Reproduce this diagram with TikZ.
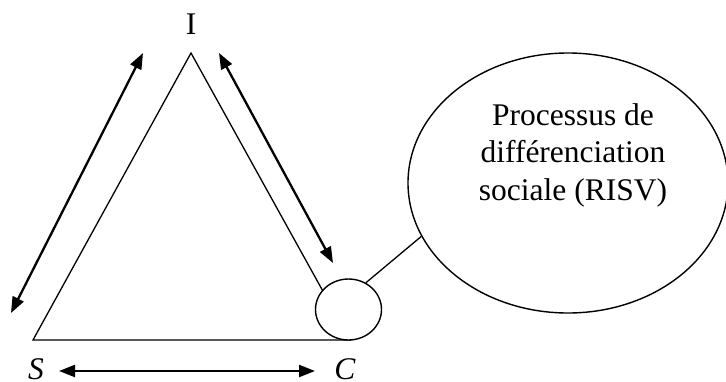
\documentclass[tikz,border=0pt]{standalone}
\usepackage{fontspec}
\setmainfont{Liberation Serif}
\usetikzlibrary{arrows.meta,shapes.geometric,positioning}
\tikzset{
  side/.style={line width=1.3pt},
  link/.style={{Triangle[length=16pt,width=12pt]}-{Triangle[length=16pt,width=12pt]},line width=2.3pt},
  vertex/.style={font=\fontsize{31.5}{37.5}\selectfont,inner sep=0pt},
  bubble/.style={ellipse,draw,line width=1.4pt,fill=white,inner sep=0pt},
  caption/.style={font=\fontsize{31.5}{37.5}\selectfont,align=center,inner sep=0pt}
}

\begin{document}
\begin{tikzpicture}[x=1pt,y=-1pt]
  \useasboundingbox (0,0) rectangle (726,381);
  % triangle S - I - C
  \coordinate (s) at (33,340);
  \coordinate (i) at (191,53);
  \coordinate (c) at (350,340);
  \draw[side] (s) -- (i) -- (c) -- cycle;
  \node[vertex] (ilabel) at (191,24) {I};
  \node[vertex] (slabel) at (36,369) {\itshape S};
  \node[vertex] (clabel) at (345,369) {\itshape C};
  % the small circle at C and the bubble
  \node[bubble, minimum width=66pt, minimum height=61pt] (small) at (348.5,309.5) {};
  \node[bubble, minimum width=320pt, minimum height=260pt] (risv) at (568,183) {};
  \node[caption] (risvtext) at (573,155) {Processus de\\différenciation\\sociale (RISV)};
  \draw[side] (small.57) -- (risv.200);
  % arrows along the sides
  \coordinate (lefttop) at (143,53);
  \coordinate (leftbot) at (11,313);
  \coordinate (righttop) at (219,53);
  \coordinate (rightbot) at (333,263);
  \coordinate (baseleft) at (59,371);
  \coordinate (baseright) at (315,371);
  \draw[link] (lefttop) -- (leftbot);
  \draw[link] (righttop) -- (rightbot);
  \draw[link] (baseleft) -- (baseright);
\end{tikzpicture}
\end{document}
